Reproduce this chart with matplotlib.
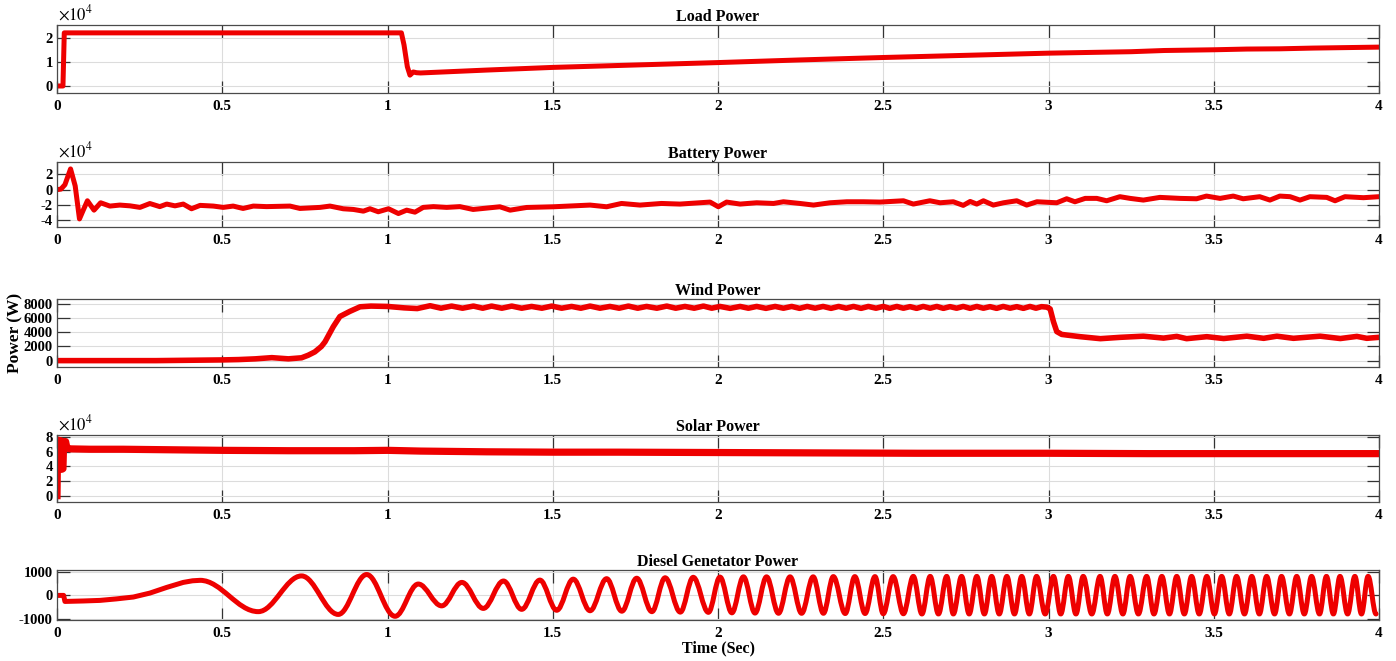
import numpy as np
import matplotlib
matplotlib.use("Agg")
import matplotlib.pyplot as plt
from matplotlib.path import Path
from matplotlib.patches import PathPatch

plt.rcParams['font.family'] = ['Liberation Serif', 'DejaVu Serif']
plt.rcParams['mathtext.fontset'] = 'stix'

# ---- data (time in s, power in W) ----
load_t = [0, 0.018, 0.022, 1.042, 1.05, 1.06, 1.068, 1.078, 1.088, 1.1, 1.3, 1.5, 1.75,
          2.0, 2.25, 2.5, 2.75, 3.0, 3.25, 3.35, 3.5, 3.6, 3.7, 3.8, 3.9, 4.0]
load_p = [0, 0, 22000, 22000, 17000, 8000, 4500, 5800, 5500, 5400, 6600, 7700, 8700,
          9700, 10800, 11800, 12700, 13600, 14200, 14700, 15000, 15300, 15400, 15700, 15900, 16100]

batt_t = [0, 0.012, 0.024, 0.041, 0.055, 0.068, 0.08, 0.092, 0.112, 0.132, 0.16, 0.19, 0.221,
          0.251, 0.281, 0.311, 0.332, 0.357, 0.382, 0.407, 0.433, 0.473, 0.503, 0.533, 0.563,
          0.594, 0.634, 0.705, 0.735, 0.796, 0.826, 0.866, 0.897, 0.927, 0.947, 0.972, 1.003,
          1.033, 1.058, 1.083, 1.108, 1.139, 1.179, 1.219, 1.259, 1.34, 1.371, 1.421, 1.502,
          1.613, 1.663, 1.708, 1.764, 1.829, 1.885, 1.976, 2.001, 2.026, 2.067, 2.117, 2.168,
          2.198, 2.248, 2.289, 2.339, 2.39, 2.44, 2.49, 2.561, 2.591, 2.641, 2.672, 2.712,
          2.742, 2.763, 2.783, 2.803, 2.833, 2.864, 2.904, 2.934, 2.965, 3.025, 3.055, 3.08,
          3.111, 3.146, 3.176, 3.216, 3.247, 3.287, 3.337, 3.398, 3.448, 3.478, 3.519, 3.559,
          3.589, 3.639, 3.67, 3.7, 3.731, 3.761, 3.791, 3.842, 3.867, 3.897, 3.953, 4.0]
batt_p = [0, 800, 6500, 27000, 5000, -38000, -26000, -14400, -26600, -17000, -21300, -20000, -21000,
          -23000, -18000, -22000, -18700, -21000, -18700, -24800, -20400, -21300, -23000, -21300, -24400,
          -21300, -22000, -21300, -24400, -23000, -21300, -24800, -25700, -27900, -24800, -28700, -24800,
          -31000, -26600, -29200, -23000, -22000, -23000, -22000, -25700, -22200, -26600, -23100, -22200,
          -20000, -22200, -17900, -20000, -17900, -18700, -16100, -22200, -16100, -18700, -17000, -17900,
          -15700, -17900, -20000, -17000, -15700, -15700, -16100, -14400, -18700, -14400, -17000, -15700,
          -20400, -15300, -18700, -14400, -20000, -17000, -14400, -20000, -15700, -17000, -11800, -15700,
          -11300, -11300, -14400, -9100, -11300, -13500, -10000, -11300, -11800, -8300, -11300, -8300,
          -11800, -9100, -13500, -8300, -9100, -13500, -9100, -10000, -14400, -9100, -10400, -9100]

wind_t = [0, 0.3, 0.5, 0.55, 0.6, 0.65, 0.7, 0.74, 0.76, 0.78, 0.8, 0.811, 0.836, 0.856, 0.886,
          0.917, 0.95, 1.0, 1.05, 1.09,
          1.129, 1.162, 1.194, 1.227, 1.26, 1.288, 1.315, 1.346, 1.376, 1.406, 1.436, 1.467,
          1.497, 1.527, 1.557, 1.585, 1.613, 1.643, 1.673, 1.701, 1.729, 1.757, 1.784, 1.815,
          1.845, 1.872, 1.9, 1.928, 1.956, 1.981, 2.006, 2.037, 2.067, 2.092, 2.117, 2.145,
          2.173, 2.198, 2.223, 2.247, 2.27, 2.294, 2.318, 2.342, 2.365, 2.388, 2.41, 2.433,
          2.455, 2.478, 2.5, 2.52, 2.541, 2.561, 2.581, 2.601, 2.621, 2.642, 2.662, 2.682,
          2.702, 2.722, 2.742, 2.763, 2.783, 2.803, 2.823, 2.843, 2.863, 2.884, 2.904, 2.924,
          2.944, 2.962, 2.979, 2.995, 3.005, 3.015, 3.025, 3.04, 3.055, 3.096, 3.157, 3.218,
          3.287, 3.348, 3.388, 3.418, 3.479, 3.53, 3.6, 3.651, 3.691, 3.741, 3.822, 3.883,
          3.933, 3.963, 4.0]
wind_p = [0, 0, 100, 150, 250, 420, 250, 400, 760, 1230, 2000, 2660, 4800, 6230, 6950,
          7600, 7700, 7650, 7450, 7350,
          7750, 7400, 7700, 7400, 7700, 7400, 7700, 7400, 7700, 7400, 7650, 7400,
          7700, 7400, 7650, 7400, 7700, 7400, 7650, 7400, 7700, 7400, 7650, 7400,
          7700, 7400, 7650, 7400, 7700, 7400, 7650, 7380, 7650, 7400, 7650, 7380,
          7650, 7400, 7650, 7380, 7650, 7400, 7650, 7380, 7650, 7400, 7650, 7380,
          7650, 7400, 7650, 7380, 7650, 7400, 7620, 7380, 7650, 7400, 7650, 7380,
          7620, 7400, 7650, 7380, 7650, 7400, 7620, 7380, 7650, 7400, 7620, 7380,
          7650, 7400, 7620, 7550, 7300, 5500, 4100, 3700, 3610, 3380, 3100, 3290,
          3450, 3180, 3420, 3100, 3380, 3120, 3450, 3150, 3450, 3150, 3450, 3120,
          3420, 3150, 3290]

solar_t = [0, 0.002, 0.012, 0.014, 0.018, 0.02, 0.026, 0.03, 0.04, 0.1, 0.2, 0.3, 0.4, 0.5,
           0.7, 0.9, 1.0, 1.1, 1.3, 1.5, 1.7, 2.0, 2.3, 2.6, 3.0, 3.3, 3.6, 4.0]
solar_p = [0, 76000, 75000, 36000, 37000, 74000, 74000, 65000, 64000, 63500, 63500, 63000, 62500, 62000,
           61500, 61500, 62000, 61000, 60000, 59500, 59500, 59000, 58500, 58000, 58000, 57500, 57500, 57500]

# diesel: start-up part, then the oscillation extrema
diesel_head_t = [0, 0.02, 0.024, 0.08, 0.13, 0.18, 0.231, 0.281, 0.332, 0.382, 0.41]
diesel_head_p = [0, 0, -260, -240, -215, -150, -70, 100, 345, 560, 630]
diesel_ext_t = [0.433, 0.609, 0.740, 0.851, 0.937, 1.023, 1.093, 1.164, 1.225, 1.290, 1.351, 1.406,
                1.461, 1.512, 1.562, 1.613, 1.663, 1.709, 1.754, 1.800, 1.840, 1.886, 1.925, 1.971,
                2.006, 2.042, 2.077, 2.112, 2.147, 2.183, 2.218, 2.253, 2.288, 2.319, 2.349, 2.385,
                2.414, 2.445, 2.475, 2.500, 2.530, 2.561, 2.591, 2.617, 2.642, 2.667, 2.692, 2.712,
                2.737, 2.760, 2.783, 2.806, 2.828, 2.851, 2.874, 2.897, 2.919, 2.942, 2.964, 2.990,
                3.015, 3.037, 3.060, 3.083, 3.105, 3.131, 3.156, 3.178, 3.201, 3.225, 3.247, 3.272,
                3.297, 3.319, 3.343, 3.366, 3.388, 3.411, 3.433, 3.456, 3.479, 3.502, 3.524, 3.547,
                3.569, 3.593, 3.615, 3.638, 3.660, 3.684, 3.705, 3.729, 3.751, 3.774, 3.796, 3.820,
                3.841, 3.862, 3.882, 3.905, 3.927, 3.947, 3.967, 3.991]
diesel_ext_p = [650, -700, 840, -820, 900, -900, 490, -450, 560, -560, 620, -600,
                660, -640, 700, -660, 720, -680, 740, -700, 760, -720, 780, -730,
                790, -750, 800, -760, 800, -770, 800, -770, 800, -770, 810, -780,
                810, -780, 810, -790, 810, -790, 820, -800, 820, -800, 820, -800,
                820, -800, 820, -800, 820, -800, 820, -800, 820, -800, 820, -800,
                820, -800, 820, -800, 820, -800, 820, -800, 820, -800, 820, -800,
                820, -800, 820, -800, 820, -800, 820, -800, 820, -800, 820, -800,
                820, -800, 820, -800, 820, -800, 820, -800, 820, -800, 820, -800,
                820, -800, 820, -800, 820, -800, 820, -800]

x_ticks = [0, 0.5, 1, 1.5, 2, 2.5, 3, 3.5, 4]
x_labels = ['0', '0.5', '1', '1.5', '2', '2.5', '3', '3.5', '4']

RED = '#ee0000'
LW = 3.6

W, H = 1396, 661
fig = plt.figure(figsize=(W / 100, H / 100), dpi=100)

# panel boxes in pixels: (top, bottom)
boxes = [(25, 93), (162, 227), (299, 367), (435, 502), (570, 620)]
axes = []
for top, bot in boxes:
    ax = fig.add_axes([57 / W, (H - bot) / H, (1379 - 57) / W, (bot - top) / H])
    axes.append(ax)

titles = ['Load Power', 'Battery Power', 'Wind Power', 'Solar Power', 'Diesel Genetator Power']
ylims = [(-2900, 25260), (-48500, 36000), (-900, 8700), (-8700, 83000), (-1060, 1095)]
yticks = [[0, 10000, 20000], [-40000, -20000, 0, 20000], [0, 2000, 4000, 6000, 8000],
          [0, 20000, 40000, 60000, 80000], [-1000, 0, 1000]]
ylabels = [['0', '1', '2'], ['-4', '-2', '0', '2'], ['0', '2000', '4000', '6000', '8000'],
           ['0', '2', '4', '6', '8'], ['-1000', '0', '1000']]

axes[0].plot(load_t, load_p, color=RED, lw=LW)
axes[1].plot(batt_t, batt_p, color=RED, lw=LW)
axes[2].plot(wind_t, wind_p, color=RED, lw=LW + 0.4)
axes[3].plot(solar_t, solar_p, color=RED, lw=LW + 1.6)

# diesel curve: straight segments for the start, smooth arcs between extrema
k = 0.3634
verts = [(diesel_head_t[0], diesel_head_p[0])]
codes = [Path.MOVETO]
for t, p in zip(diesel_head_t[1:], diesel_head_p[1:]):
    verts.append((t, p))
    codes.append(Path.LINETO)
verts.append((diesel_ext_t[0], diesel_ext_p[0]))
codes.append(Path.LINETO)
for i in range(1, len(diesel_ext_t)):
    t0, p0 = diesel_ext_t[i - 1], diesel_ext_p[i - 1]
    t1, p1 = diesel_ext_t[i], diesel_ext_p[i]
    dt = t1 - t0
    verts += [(t0 + k * dt, p0), (t1 - k * dt, p1), (t1, p1)]
    codes += [Path.CURVE4] * 3
axes[4].add_patch(PathPatch(Path(verts, codes), facecolor='none', edgecolor=RED, lw=LW,
                            joinstyle='round', capstyle='round'))

for i, ax in enumerate(axes):
    ax.set_xlim(0, 4)
    ax.set_ylim(*ylims[i])
    ax.set_xticks(x_ticks)
    ax.set_xticklabels(x_labels, fontsize=11, fontweight='bold')
    ax.set_yticks(yticks[i])
    ax.set_yticklabels(ylabels[i], fontsize=10.5, fontweight='bold')
    ax.grid(True, color='#dcdcdc', lw=0.8)
    ax.set_axisbelow(True)
    ax.tick_params(direction='in', length=9, width=0.9, top=True, right=True,
                   color='#333333')
    ax.tick_params(axis='x', pad=5)
    ax.tick_params(axis='y', pad=3)
    for s in ax.spines.values():
        s.set_color('#4a4a4a')
        s.set_linewidth(0.9)
    ax.set_title(titles[i], fontsize=11.5, fontweight='bold', pad=3)

for i in [0, 1, 3]:
    axes[i].text(0.001, 1.01, r'$\times10^{4}$', transform=axes[i].transAxes,
                 fontsize=12, ha='left', va='bottom')

axes[2].set_ylabel('Power (W)', fontsize=12.5, fontweight='bold')
axes[2].yaxis.set_label_coords(-0.0255, 0.5)
axes[4].set_xlabel('Time (Sec)', fontsize=11.5, fontweight='bold', labelpad=0)

fig.savefig('out.png', dpi=100)
